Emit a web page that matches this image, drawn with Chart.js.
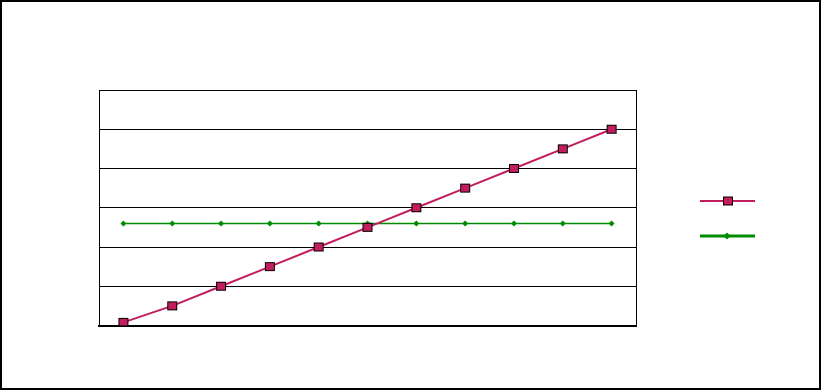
<!DOCTYPE html>
<html>
<head>
<meta charset="utf-8">
<script src="https://cdn.jsdelivr.net/npm/chart.js@4/dist/chart.umd.min.js"></script>
<style>
html,body{margin:0;padding:0;background:#fff;}
#wrap{width:821px;height:390px;position:relative;}
</style>
</head>
<body>
<div id="wrap"><canvas id="c" width="821" height="390"></canvas></div>
<script>
const categories = ['1','2','3','4','5','6','7','8','9','10','11'];
const seriesA = [0.08, 0.5, 1.0, 1.5, 2.0, 2.5, 3.0, 3.5, 4.0, 4.5, 5.0];
const seriesB = [2.6, 2.6, 2.6, 2.6, 2.6, 2.6, 2.6, 2.6, 2.6, 2.6, 2.6];
const yTicks = [0, 1, 2, 3, 4, 5, 6];

const MAGENTA = 'rgb(194,30,95)';
const GREEN = 'rgb(0,140,0)';

function squareMarker(w, h) {
  const c = document.createElement('canvas');
  c.width = w + 2; c.height = h + 2;
  const x = c.getContext('2d');
  x.fillStyle = MAGENTA;
  x.fillRect(1, 1, w, h);
  x.strokeStyle = '#000';
  x.lineWidth = 1;
  x.strokeRect(1.5, 1.5, w - 1, h - 1);
  return c;
}
const sqImg = squareMarker(10, 9);

const framePlugin = {
  id: 'frame',
  afterDraw(chart) {
    const ctx = chart.ctx;
    const a = chart.chartArea;
    ctx.save();
    ctx.strokeStyle = '#000';
    ctx.lineWidth = 1;
    ctx.beginPath();
    ctx.moveTo(Math.round(a.right) + 0.5, a.top);
    ctx.lineTo(Math.round(a.right) + 0.5, a.bottom);
    ctx.stroke();
    ctx.lineWidth = 2;
    ctx.strokeRect(1, 1, chart.width - 2, chart.height - 2);
    const items = chart.data.datasets;
    const lx0 = 700, lx1 = 755, ys = [201, 236];
    items.forEach((ds, i) => {
      const y = ys[i];
      ctx.strokeStyle = ds.borderColor;
      ctx.lineWidth = i === 0 ? 2 : 3;
      ctx.beginPath();
      ctx.moveTo(lx0, y);
      ctx.lineTo(lx1, y);
      ctx.stroke();
      if (i === 0) {
        ctx.drawImage(sqImg, 728 - sqImg.width / 2, y - sqImg.height / 2);
      } else {
        ctx.fillStyle = GREEN;
        ctx.beginPath();
        ctx.moveTo(727, y - 3.5);
        ctx.lineTo(730.5, y);
        ctx.lineTo(727, y + 3.5);
        ctx.lineTo(723.5, y);
        ctx.closePath();
        ctx.fill();
      }
    });
    ctx.restore();
  }
};

new Chart(document.getElementById('c'), {
  type: 'line',
  data: {
    labels: categories,
    datasets: [
      {
        data: seriesA,
        borderColor: MAGENTA,
        backgroundColor: MAGENTA,
        borderWidth: 2,
        pointStyle: sqImg,
        order: 1
      },
      {
        data: seriesB,
        borderColor: GREEN,
        backgroundColor: GREEN,
        borderWidth: 1.5,
        pointStyle: 'rectRot',
        pointRadius: 3,
        pointBorderWidth: 0,
        pointBackgroundColor: GREEN,
        order: 2
      }
    ]
  },
  options: {
    responsive: false,
    animation: false,
    devicePixelRatio: 1,
    layout: { padding: { left: 99, top: 90, right: 185, bottom: 64.5 } },
    plugins: { legend: { display: false }, tooltip: { enabled: false }, title: { display: false } },
    scales: {
      x: {
        offset: true,
        grid: { display: false, drawTicks: false },
        border: { display: true, color: '#000', width: 2 },
        ticks: { display: false }
      },
      y: {
        min: yTicks[0],
        max: yTicks[yTicks.length - 1],
        afterBuildTicks(scale) { scale.ticks = yTicks.map(v => ({ value: v })); },
        grid: { color: '#000', lineWidth: 1, drawTicks: false },
        border: { display: true, color: '#000', width: 1 },
        ticks: { display: false }
      }
    }
  },
  plugins: [framePlugin]
});
</script>
</body>
</html>
